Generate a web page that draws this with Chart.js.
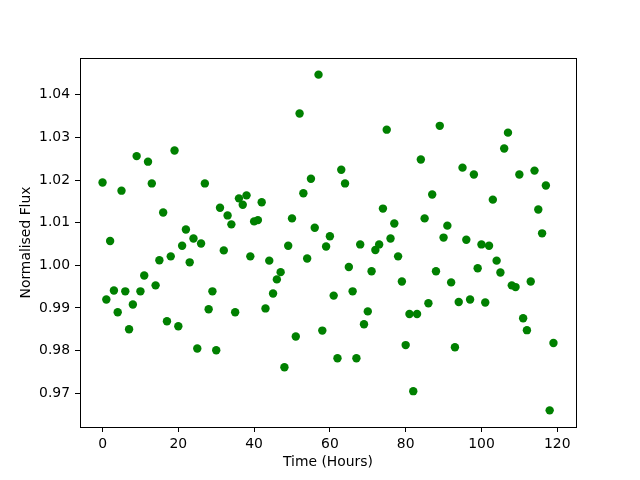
<!DOCTYPE html>
<html>
<head>
<meta charset="utf-8">
<script src="https://cdn.jsdelivr.net/npm/chart.js@4"></script>
<style>
  body { margin: 0; background: #fff; }
</style>
</head>
<body>
<canvas id="fluxChart" width="640" height="480"></canvas>
<script>
// data
const timeHours = [
  0, 1, 2, 3, 4, 5, 6, 7, 8, 9,
  10, 11, 12, 13, 14, 15, 16, 17, 18, 19,
  20, 21, 22, 23, 24, 25, 26, 27, 28, 29,
  30, 31, 32, 33, 34, 35, 36, 37, 38, 39,
  40, 41, 42, 43, 44, 45, 46, 47, 48, 49,
  50, 51, 52, 53, 54, 55, 56, 57, 58, 59,
  60, 61, 62, 63, 64, 65, 66, 67, 68, 69,
  70, 71, 72, 73, 74, 75, 76, 77, 78, 79,
  80, 81, 82, 83, 84, 85, 86, 87, 88, 89,
  90, 91, 92, 93, 94, 95, 96, 97, 98, 99,
  100, 101, 102, 103, 104, 105, 106, 107, 108, 109,
  110, 111, 112, 113, 114, 115, 116, 117, 118, 119
];

const normFlux = [
  1.0194, 0.9920, 1.0057, 0.9941, 0.9890, 1.0175, 0.9939, 0.9850, 0.9908, 1.0256,
  0.9939, 0.9976, 1.0243, 1.0192, 0.9953, 1.0012, 1.0124, 0.9869, 1.0021, 1.0269,
  0.9857, 1.0046, 1.0084, 1.0007, 1.0063, 0.9805, 1.0051, 1.0192, 0.9897, 0.9939,
  0.9801, 1.0135, 1.0035, 1.0117, 1.0096, 0.9890, 1.0157, 1.0142, 1.0164, 1.0021,
  1.0103, 1.0106, 1.0148, 0.9899, 1.0011, 0.9934, 0.9967, 0.9984, 0.9761, 1.0046,
  1.0110, 0.9833, 1.0356, 1.0169, 1.0016, 1.0203, 1.0088, 1.0447, 0.9847, 1.0044,
  1.0068, 0.9929, 0.9782, 1.0224, 1.0192, 0.9996, 0.9939, 0.9782, 1.0049, 0.9862,
  0.9892, 0.9986, 1.0036, 1.0049, 1.0133, 1.0318, 1.0063, 1.0098, 1.0021, 0.9962,
  0.9813, 0.9886, 0.9705, 0.9886, 1.0248, 1.0110, 0.9911, 1.0166, 0.9986, 1.0327,
  1.0065, 1.0093, 0.9960, 0.9808, 0.9914, 1.0229, 1.0060, 0.9920, 1.0213, 0.9993,
  1.0049, 0.9913, 1.0046, 1.0154, 1.0011, 0.9983, 1.0274, 1.0311, 0.9953, 0.9949,
  1.0213, 0.9876, 0.9848, 0.9962, 1.0222, 1.0131, 1.0075, 1.0187, 0.9660, 0.9818
];

const xTicks = [0, 20, 40, 60, 80, 100, 120];
const yTicks = [0.97, 0.98, 0.99, 1.00, 1.01, 1.02, 1.03, 1.04];

const points = timeHours.map((t, i) => ({ x: t, y: normFlux[i] }));

const font = { family: "DejaVu Sans", size: 13.9 };

// box round the plot area (matplotlib spines)
const frameBox = {
    id: "frameBox",
    afterDatasetsDraw(chart) {
        const a = chart.chartArea;
        const c = chart.ctx;
        c.save();
        c.strokeStyle = "#000";
        c.lineWidth = 1;
        c.strokeRect(Math.round(a.left) + 0.5, Math.round(a.top) + 0.5,
            Math.round(a.right - a.left), Math.round(a.bottom - a.top));
        c.restore();
    }
};

new Chart(document.getElementById("fluxChart"), {
    type: "scatter",
    data: {
        datasets: [{
            data: points,
            backgroundColor: "#008000",
            borderWidth: 0,
            pointRadius: 4.2,
            pointHoverRadius: 4.2
        }]
    },
    options: {
        responsive: false,
        animation: false,
        layout: {
            padding: { left: 0, top: 58, right: 64, bottom: 0 }
        },
        plugins: {
            legend: { display: false },
            tooltip: { enabled: false }
        },
        scales: {
            x: {
                type: "linear",
                min: -5.95,
                max: 124.95,
                afterBuildTicks: s => { s.ticks = xTicks.map(v => ({ value: v })); },
                afterFit: s => { s.height = 53; },
                grid: {
                    drawOnChartArea: false,
                    drawTicks: true,
                    tickLength: 5,
                    tickColor: "#000"
                },
                border: { color: "#000" },
                ticks: {
                    color: "#000",
                    font: font,
                    padding: 4,
                    maxRotation: 0,
                    callback: v => String(v)
                },
                title: {
                    display: true,
                    text: "Time (Hours)",
                    color: "#000",
                    font: font,
                    padding: { top: 0, bottom: 9 }
                }
            },
            y: {
                type: "linear",
                min: 0.9621,
                max: 1.0486,
                afterBuildTicks: s => { s.ticks = yTicks.map(v => ({ value: v })); },
                afterFit: s => { s.width = 80; },
                grid: {
                    drawOnChartArea: false,
                    drawTicks: true,
                    tickLength: 5,
                    tickColor: "#000"
                },
                border: { color: "#000" },
                ticks: {
                    color: "#000",
                    font: font,
                    padding: 5,
                    callback: v => Number(v).toFixed(2)
                },
                title: {
                    display: true,
                    text: "Normalised Flux",
                    color: "#000",
                    font: font,
                    padding: { top: 18, bottom: 0 }
                }
            }
        }
    },
    plugins: [frameBox]
});
</script>
</body>
</html>
